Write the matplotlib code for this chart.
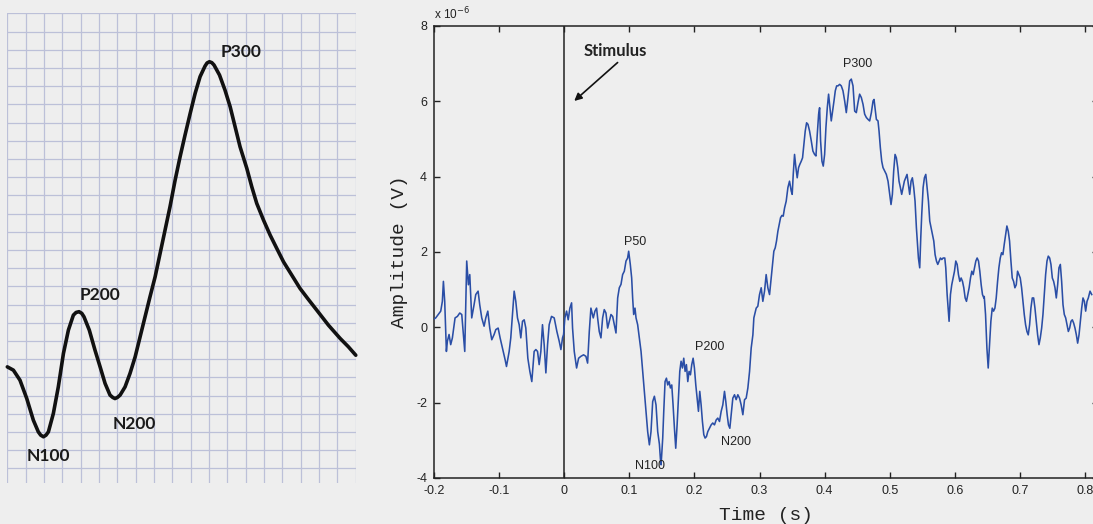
import matplotlib
matplotlib.use("Agg")
import matplotlib.pyplot as plt

# ---------------- Left panel: schematic ERP drawn on grid paper ----------------
# x / y measured in grid squares (x from left grid edge, y upward from lowest horizontal line)
sketch_x = [0.00, 0.33, 0.69, 1.06, 1.42, 1.69, 1.82, 1.97, 2.11, 2.24, 2.51, 2.78, 3.06, 3.33,
            3.60, 3.75, 3.91, 4.06, 4.18, 4.47, 4.78, 5.06, 5.33, 5.60, 5.75, 5.87, 6.00, 6.15,
            6.42, 6.69, 6.97, 7.24, 7.51, 7.78, 8.06, 8.33, 8.60, 8.87, 9.15, 9.42, 9.69, 9.97,
            10.24, 10.51, 10.78, 10.89, 11.02, 11.15, 11.27, 11.57, 11.87, 12.15, 12.42, 12.69,
            13.06, 13.33, 13.60, 13.97, 14.33, 14.69, 15.06, 15.51, 15.96, 16.42, 16.87, 17.51,
            18.15, 18.60, 19.00]
sketch_y = [5.58, 5.40, 4.85, 3.84, 2.65, 2.01, 1.83, 1.74, 1.83, 2.01, 3.02, 4.48, 6.32, 7.60,
            8.42, 8.57, 8.61, 8.52, 8.33, 7.60, 6.50, 5.58, 4.67, 4.03, 3.90, 3.84, 3.90, 4.03,
            4.48, 5.22, 6.13, 7.23, 8.33, 9.43, 10.53, 11.81, 13.09, 14.37, 15.84, 17.12, 18.31,
            19.50, 20.60, 21.52, 22.10, 22.27, 22.34, 22.29, 22.16, 21.61, 20.78, 19.87, 18.77,
            17.67, 16.48, 15.47, 14.56, 13.64, 12.82, 12.09, 11.35, 10.62, 9.89, 9.28, 8.70,
            7.87, 7.14, 6.68, 6.22]
sketch_labels = ["P300", "P200", "N200", "N100"]
sketch_label_x = [12.75, 5.06, 6.91, 2.22]
sketch_label_y = [22.87, 9.53, 2.43, 0.68]

# ---------------- Right panel: recorded ERP (amplitude in units of 1e-6 V) ----------------
erp_time_ms = [
    -200.0, -197.4, -189.7, -187.2, -185.6, -183.6, -181.0, -179.5, -176.9, -174.4, -171.8,
    -167.7, -164.1, -160.5, -157.4, -154.9, -152.8, -149.8, -147.2, -145.1, -142.1, -138.5,
    -135.9, -132.3, -129.8, -126.7, -123.1, -120.5, -117.4, -114.4, -111.3, -107.7, -105.1,
    -101.5, -98.5, -94.9, -90.8, -88.7, -84.6, -82.1, -79.5, -76.9, -74.4, -71.8, -69.2,
    -66.7, -64.1, -61.5, -59.0, -55.9, -52.8, -49.8, -46.2, -43.6, -41.0, -38.5, -35.9,
    -33.4, -30.8, -28.2, -25.6, -23.1, -19.5, -15.4, -11.3, -7.7, -5.1, -2.6, -1.0,
    1.0, 3.6, 6.1, 8.7, 11.3, 12.8, 15.4, 19.0, 22.1, 25.6, 29.7, 33.3, 35.9, 38.5, 41.0,
    44.6, 47.2, 49.7, 51.3, 53.8, 56.4, 59.0, 61.5, 64.1, 66.7, 69.2, 71.8, 74.4, 76.9,
    79.5, 82.1, 84.6, 87.2, 89.7, 92.3, 94.9, 97.4, 99.0, 101.5, 103.6, 105.1, 106.7,
    108.7, 110.3, 112.8, 115.4, 118.0, 120.5, 123.1, 125.6, 128.2, 130.8, 133.3, 135.9,
    138.5, 141.0, 143.6, 146.2, 147.7, 148.8, 151.3, 152.9, 154.9, 157.0, 159.0, 161.1,
    163.1, 165.2, 167.2, 169.3, 171.3, 173.4, 175.4, 177.5, 179.5, 181.6, 183.6, 185.7,
    187.7, 189.8, 191.8, 193.9, 195.9, 198.0, 200.0, 202.1, 204.1, 206.2, 208.2, 210.3,
    212.3, 214.4, 216.4, 218.5, 220.5, 223.1, 225.7, 228.2, 230.8, 233.4, 235.9, 238.5,
    241.1, 243.6, 246.2, 248.2, 250.3, 252.3, 254.4, 256.4, 259.0, 261.6, 264.1, 266.7,
    269.3, 271.8, 274.4, 277.0, 279.5, 282.1, 284.7, 287.2, 289.8, 291.3, 294.9, 297.4,
    300.0, 302.6, 305.1, 307.7, 310.2, 312.8, 315.4, 317.9, 320.5, 322.0, 324.1, 326.1,
    328.2, 330.2, 332.3, 334.4, 336.4, 338.5, 341.0, 343.6, 346.1, 348.7, 350.2, 351.8,
    353.8, 355.9, 357.9, 360.0, 362.0, 364.1, 366.1, 368.2, 370.2, 372.3, 374.4, 376.9,
    379.5, 382.0, 384.6, 386.7, 388.7, 390.8, 392.3, 393.8, 395.9, 397.9, 400.0, 402.0,
    404.1, 406.1, 408.2, 410.2, 412.3, 414.4, 416.4, 418.5, 420.5, 423.1, 425.6, 428.2,
    430.8, 433.3, 435.9, 438.5, 441.0, 443.6, 446.2, 448.7, 451.3, 453.8, 456.4, 459.0,
    461.5, 464.1, 466.7, 469.2, 471.8, 474.4, 475.9, 477.4, 479.5, 482.0, 483.6, 485.6,
    487.7, 489.7, 492.3, 494.8, 497.4, 500.0, 502.0, 504.1, 506.1, 508.2, 510.2, 512.3,
    514.3, 516.4, 518.4, 520.5, 522.5, 524.6, 526.6, 528.7, 530.7, 532.8, 534.8, 536.9,
    538.9, 541.0, 543.0, 544.1, 546.1, 547.7, 549.2, 551.3, 553.3, 555.4, 557.4, 559.5,
    561.5, 563.6, 565.6, 567.7, 569.7, 571.8, 573.8, 575.9, 577.9, 580.0, 582.0, 584.6,
    586.1, 588.2, 589.7, 591.2, 593.3, 595.3, 597.4, 599.5, 601.5, 603.6, 605.6, 607.7,
    609.7, 611.8, 613.8, 615.9, 617.9, 620.0, 622.0, 624.1, 626.1, 628.2, 630.2, 632.3,
    634.3, 636.4, 638.4, 640.5, 642.5, 644.6, 645.2, 647.2, 649.3, 651.3, 653.4, 655.4,
    657.5, 659.5, 661.6, 663.6, 665.7, 667.7, 669.8, 671.8, 673.9, 675.9, 678.0, 680.0,
    682.1, 684.1, 686.2, 688.2, 690.3, 692.3, 694.4, 696.4, 698.5, 700.5, 702.6, 704.6,
    706.7, 708.7, 710.8, 712.8, 714.9, 716.9, 719.0, 721.1, 723.1, 725.2, 727.2, 729.3,
    731.3, 733.4, 735.4, 737.5, 739.5, 741.6, 743.6, 745.7, 747.7, 749.8, 751.8, 753.9,
    755.9, 758.0, 760.0, 762.1, 764.1, 766.2, 768.2, 770.3, 772.3, 774.4, 776.4, 778.5,
    780.5, 782.6, 784.6, 786.7, 788.7, 790.8, 792.8, 794.9, 796.9, 799.0, 801.0, 803.1,
    805.1, 807.7, 810.3]
erp_amp_uv = [
    0.22, 0.25, 0.43, 0.69, 1.22, 0.69, -0.64, -0.37, -0.19, -0.46, -0.28,
    0.25, 0.29, 0.38, 0.34, -0.19, -0.64, 1.76, 1.13, 1.40, 0.25, 0.60,
    0.87, 0.96, 0.60, 0.25, 0.03, 0.25, 0.43, -0.02, -0.33, -0.19, -0.06,
    -0.02, -0.28, -0.55, -0.86, -1.04, -0.64, -0.28, 0.34, 0.96, 0.69, 0.25, 0.07,
    -0.28, 0.16, 0.20, -0.02, -0.82, -1.17, -1.44, -0.64, -0.59, -0.64, -0.99, -0.64,
    0.07, -0.46, -1.21, -0.46, 0.07, 0.29, 0.25, -0.11, -0.37, -0.59, -0.28, -0.19,
    0.25, 0.43, 0.20, 0.51, 0.65, -0.02, -0.64, -1.08, -0.82, -0.77, -0.73, -0.77, -0.95, -0.11, 0.51,
    0.25, 0.43, 0.51, 0.25, -0.11, -0.28, 0.25, 0.47, 0.38, -0.02, 0.16, 0.34, 0.29, 0.07,
    -0.15, 0.78, 1.05, 1.14, 1.40, 1.49, 1.76, 1.84, 2.02, 1.67, 1.31, 0.78, 0.34,
    0.51, 0.25, 0.07, -0.28, -0.64, -1.17, -1.70, -2.23, -2.77, -3.12, -2.77, -1.97,
    -1.83, -2.06, -2.77, -3.10, -3.48, -3.65, -2.94, -2.23, -1.44, -1.35, -1.53, -1.44,
    -1.61, -1.53, -2.06, -2.68, -3.21, -2.59, -1.88, -1.17, -0.90, -1.08, -0.82, -1.17,
    -0.99, -1.44, -1.17, -1.26, -0.99, -0.82, -1.08, -1.53, -1.88, -2.23, -1.70, -2.06,
    -2.50, -2.85, -2.94, -2.90, -2.77, -2.68, -2.59, -2.54, -2.59, -2.46, -2.41, -2.50,
    -2.23, -2.06, -1.70, -1.97, -2.32, -2.59, -2.68, -2.32, -1.88, -1.79, -1.92, -1.79,
    -1.88, -2.06, -2.32, -1.92, -1.88, -1.61, -1.17, -0.55, -0.20, 0.25, 0.51, 0.56,
    0.87, 1.05, 0.69, 0.96, 1.40, 1.05, 0.87, 1.31, 1.76, 2.02, 2.11, 2.29,
    2.55, 2.73, 2.91, 2.97, 2.95, 3.17, 3.35, 3.71, 3.88, 3.62, 3.53, 4.06,
    4.59, 4.24, 3.97, 4.24, 4.33, 4.41, 4.50, 4.86, 5.21, 5.43, 5.39, 5.21,
    4.95, 4.68, 4.59, 4.55, 5.12, 5.66, 5.83, 4.95, 4.41, 4.28, 4.59, 5.30,
    5.83, 6.19, 5.83, 5.48, 5.74, 6.01, 6.28, 6.41, 6.41, 6.45, 6.41, 6.28,
    6.01, 5.70, 6.10, 6.54, 6.59, 6.41, 5.74, 5.70, 5.97, 6.19, 6.10, 5.92,
    5.66, 5.57, 5.52, 5.48, 5.70, 6.01, 6.05, 5.83, 5.52, 5.48, 5.21, 4.77,
    4.41, 4.24, 4.15, 4.06, 3.88, 3.53, 3.26, 3.53, 4.15, 4.59, 4.50, 4.24,
    3.88, 3.71, 3.53, 3.71, 3.88, 3.97, 4.06, 3.79, 3.53, 3.88, 3.97, 3.71,
    3.35, 2.64, 2.11, 1.84, 1.58, 2.38, 3.00, 3.71, 3.97, 4.06, 3.71, 3.35,
    2.82, 2.64, 2.46, 2.29, 1.93, 1.76, 1.67, 1.76, 1.84, 1.80, 1.84, 1.84,
    1.58, 0.87, 0.51, 0.16, 0.87, 1.13, 1.31, 1.49, 1.76, 1.67, 1.40, 1.22,
    1.31, 1.22, 1.05, 0.78, 0.69, 0.87, 1.05, 1.31, 1.49, 1.40, 1.58, 1.76,
    1.84, 1.76, 1.49, 1.13, 0.87, 0.78, 0.82, 0.34, -0.55, -1.08, -0.46, 0.16,
    0.51, 0.43, 0.51, 0.78, 1.22, 1.58, 1.84, 1.98, 1.93, 2.20, 2.46, 2.69,
    2.55, 2.29, 1.76, 1.31, 1.22, 1.05, 1.13, 1.49, 1.40, 1.31, 1.05, 0.69,
    0.34, 0.07, -0.11, -0.20, 0.07, 0.51, 0.78, 0.78, 0.51, 0.16, -0.20, -0.46,
    -0.28, -0.02, 0.34, 0.87, 1.40, 1.76, 1.89, 1.84, 1.67, 1.31, 1.22, 1.05,
    0.78, 1.13, 1.58, 1.67, 1.22, 0.60, 0.34, 0.25, 0.07, -0.11, -0.02, 0.16,
    0.20, 0.11, -0.02, -0.20, -0.42, -0.20, 0.16, 0.51, 0.78, 0.69, 0.43, 0.69,
    0.78, 0.96, 0.87]
erp_time_s = [t / 1000.0 for t in erp_time_ms]

x_ticks = [-0.2, -0.1, 0.0, 0.1, 0.2, 0.3, 0.4, 0.5, 0.6, 0.7, 0.8]
x_tick_labels = ["-0.2", "-0.1", "0", "0.1", "0.2", "0.3", "0.4", "0.5", "0.6", "0.7", "0.8"]
y_ticks = [-4, -2, 0, 2, 4, 6, 8]
y_tick_labels = ["-4", "-2", "0", "2", "4", "6", "8"]

peak_labels = ["P50", "N100", "P200", "N200", "P300"]
peak_label_t = [0.109, 0.132, 0.223, 0.264, 0.450]
peak_label_v = [2.27, -3.68, -0.52, -3.05, 6.99]

BG = "#eeeeee"
fig = plt.figure(figsize=(10.93, 5.24), dpi=100, facecolor=BG)

# ---- left panel ----
axl = fig.add_axes([0.0067, 0.0782, 0.3188, 0.8964])
axl.set_facecolor(BG)
axl.set_xlim(0, 19)
axl.set_ylim(-0.8, 25)
axl.set_xticks(range(0, 20))
axl.set_yticks(range(0, 26))
axl.grid(True, color="#bcc0d8", linewidth=0.9)
axl.tick_params(length=0, labelbottom=False, labelleft=False)
for s in axl.spines.values():
    s.set_visible(False)
axl.plot(sketch_x, sketch_y, color="#111111", linewidth=2.6, solid_capstyle="round",
         solid_joinstyle="round", clip_on=False, zorder=3)
for lab, lx, ly in zip(sketch_labels, sketch_label_x, sketch_label_y):
    axl.text(lx, ly, lab, ha="center", va="center", fontsize=12.5, fontweight="bold",
             family=["Lato", "DejaVu Sans"], color="#1a1a1a", zorder=4)

# ---- right panel ----
ax = fig.add_axes([0.3971, 0.0878, 0.6075, 0.8626])
ax.set_facecolor(BG)
ax.plot(erp_time_s, erp_amp_uv, color="#2a4ea6", linewidth=1.15, zorder=3)
ax.axvline(0, color="#222222", linewidth=1.1, zorder=2)
ax.set_xlim(-0.2, 0.82)
ax.set_ylim(-4, 8)
ax.set_xticks(x_ticks)
ax.set_xticklabels(x_tick_labels)
ax.set_yticks(y_ticks)
ax.set_yticklabels(y_tick_labels)
ax.tick_params(direction="in", top=True, right=True, length=4, width=1.0,
               labelsize=9, pad=5, colors="#222222")
for lbl in ax.get_xticklabels() + ax.get_yticklabels():
    lbl.set_family(["Liberation Sans", "DejaVu Sans"])
for s in ax.spines.values():
    s.set_linewidth(1.1)
    s.set_color("#222222")

ax.set_xlabel("Time (s)", family=["Liberation Mono", "DejaVu Sans Mono"], fontsize=14,
              labelpad=7, color="#222222")
ax.set_ylabel("Amplitude (V)", family=["Liberation Mono", "DejaVu Sans Mono"], fontsize=14,
              labelpad=6, color="#222222")
ax.text(0.0, 1.008, r"x 10$^{-6}$", transform=ax.transAxes, ha="left", va="bottom",
        fontsize=8.5, family=["Liberation Sans", "DejaVu Sans"], color="#222222")

for lab, lt, lv in zip(peak_labels, peak_label_t, peak_label_v):
    ax.text(lt, lv, lab, ha="center", va="center", fontsize=9,
            family=["Liberation Sans", "DejaVu Sans"], color="#222222", zorder=4)

ax.text(0.078, 7.34, "Stimulus", ha="center", va="center", fontsize=12, fontweight="bold",
        family=["Lato", "DejaVu Sans"], color="#222222")
ax.annotate("", xy=(0.0154, 6.01), xytext=(0.082, 7.03),
            arrowprops=dict(arrowstyle="-|>", color="#111111", lw=1.2,
                            shrinkA=0, shrinkB=0, mutation_scale=11))

fig.savefig("out.png", dpi=100, facecolor=BG)
